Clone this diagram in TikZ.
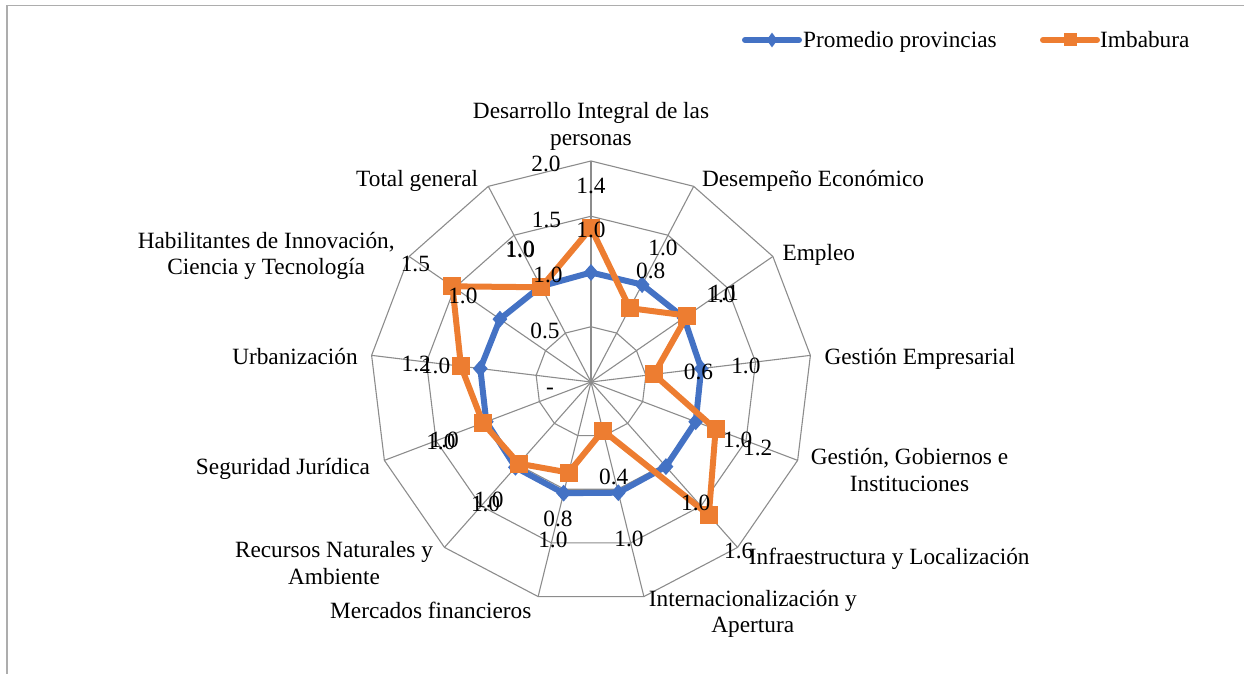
\documentclass[tikz,border=0pt]{standalone}
\usepackage{fontspec}
\setmainfont{Liberation Serif}
\usetikzlibrary{shapes.geometric}
\definecolor{serblue}{HTML}{4472C4}
\definecolor{serorange}{HTML}{ED7D31}
\definecolor{gridgray}{HTML}{8C8C8C}
\definecolor{framegray}{HTML}{ADADAD}
\begin{document}
\begin{tikzpicture}[x=1pt,y=-1pt,
  lbl/.style={font=\fontsize{23.3}{26.7}\selectfont, inner sep=0pt, text height=15pt, text depth=5pt, yshift=-3pt},
  mlbl/.style={font=\fontsize{23.3}{26.7}\selectfont, inner sep=0pt, align=center, yshift=-3pt},
  nlbl/.style={font=\fontsize{23.3}{26.7}\selectfont, inner sep=0pt, text height=15.5pt, text depth=0pt, yshift=-2.5pt},
  gridline/.style={draw=gridgray, line width=1.1pt},
  bser/.style={draw=serblue, line width=6pt, line join=round},
  oser/.style={draw=serorange, line width=6pt, line join=round},
  bmark/.style={diamond, fill=serblue, draw=none, inner sep=0pt, minimum width=15pt, minimum height=17pt},
  omark/.style={rectangle, fill=serorange, draw=none, inner sep=0pt, minimum size=18pt},
  legb/.style={diamond, fill=serblue, draw=none, inner sep=0pt, minimum width=11pt, minimum height=15pt},
  lego/.style={rectangle, fill=serorange, draw=none, inner sep=0pt, minimum size=13pt},
]
\useasboundingbox (0,0) rectangle (1244,674);
% frame
\draw[framegray, line width=1.7pt] (7,674) -- (7,5.5) -- (1244,5.5);

\begin{scope}[shift={(591,382)}]
  % grid rings
  \foreach \k in {1,...,4} {
    \draw[gridline] (-90:{55.25*\k})
      \foreach \i in {1,...,12} { -- ({\i*360/13-90}:{55.25*\k}) } -- cycle;
  }
  % spokes
  \coordinate (O) at (0,0);
  \foreach \i in {0,...,12} {
    \coordinate (v\i) at ({\i*360/13-90}:221);
    \draw[gridline] (O) -- (v\i);
  }
  % data coordinates
  \foreach \r [count=\i from 0] in {109.5,110,113,111,112,113,114,114.5,114,112,111.5,110.7,108} {
    \coordinate (b\i) at ({\i*360/13-90}:\r);
  }
  \foreach \r [count=\i from 0] in {154,83.4,116.9,63.3,133.3,177.7,50,93.3,109,115.6,131,168.4,107} {
    \coordinate (o\i) at ({\i*360/13-90}:\r);
  }
  % blue series
  \draw[bser] (b0) -- (b1) -- (b2) -- (b3) -- (b4) -- (b5) -- (b6) -- (b7) -- (b8) -- (b9) -- (b10) -- (b11) -- (b12) -- cycle;
  \foreach \i in {0,...,12} { \node[bmark] (bm\i) at (b\i) {}; }
  % orange series
  \draw[oser] (o0) -- (o1) -- (o2) -- (o3) -- (o4) -- (o5) -- (o6) -- (o7) -- (o8) -- (o9) -- (o10) -- (o11) -- (o12) -- cycle;
  \foreach \i in {0,...,12} { \node[omark] (om\i) at (o\i) {}; }
  % data labels
  \foreach \r [count=\i from 0] in {109.5,110,113,111,112,113,114,114.5,114,112,111.5,110.7,108} {
    \node[nlbl] (bl\i) at ({\i*360/13-90}:{\r+45}) {1.0};
  }
  \foreach \r/\t [count=\i from 0] in {154/1.4,83.4/0.8,116.9/1.1,63.3/0.6,133.3/1.2,177.7/1.6,50/0.4,93.3/0.8,109/1.0,115.6/1.0,131/1.2,168.4/1.5,107/1.0} {
    \node[nlbl] (ol\i) at ({\i*360/13-90}:{\r+45}) {\t};
  }
\end{scope}

% axis tick labels
\node[nlbl] (t20) at (546,161) {2.0};
\node[nlbl] (t15) at (546.5,217) {1.5};
\node[nlbl] (t10) at (548,272.5) {1.0};
\node[nlbl] (t05) at (545,328) {0.5};
\node[nlbl] (t00) at (550,384) {-};

% category labels
\node[mlbl] (c0) at (591,123.3) {Desarrollo Integral de las\\personas};
\node[lbl] (c1) at (813,178.3) {Desempeño Económico};
\node[lbl] (c2) at (818.8,252.7) {Empleo};
\node[lbl] (c3) at (920,356.7) {Gestión Empresarial};
\node[mlbl] (c4) at (909.5,466.7) {Gestión, Gobiernos e\\Instituciones};
\node[lbl] (c5) at (889.2,556.7) {Infraestructura y Localización};
\node[mlbl] (c6) at (752.8,610.8) {Internacionalización y\\Apertura};
\node[lbl] (c7) at (430.8,610) {Mercados financieros};
\node[mlbl] (c8) at (334,560) {Recursos Naturales y\\Ambiente};
\node[lbl] (c9) at (283,466.7) {Seguridad Jurídica};
\node[lbl] (c10) at (295,356.7) {Urbanización};
\node[mlbl] (c11) at (266.2,253) {Habilitantes de Innovación,\\Ciencia y Tecnología};
\node[lbl] (c12) at (417.2,178.3) {Total general};

% legend
\coordinate (lb1) at (745,40);
\coordinate (lb2) at (799,40);
\draw[bser, line cap=round] (lb1) -- (lb2);
\node[legb] (lbm) at (772,40) {};
\node[lbl, anchor=west] (lbt) at (803,40) {Promedio provincias};
\coordinate (lo1) at (1043,40);
\coordinate (lo2) at (1097,40);
\draw[oser, line cap=round] (lo1) -- (lo2);
\node[lego] (lom) at (1070,40) {};
\node[lbl, anchor=west] (lot) at (1100,40) {Imbabura};
\end{tikzpicture}
\end{document}
